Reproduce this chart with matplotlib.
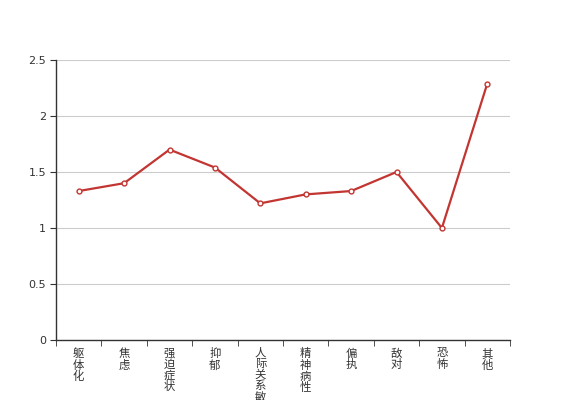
import numpy as np
import matplotlib
matplotlib.use('Agg')
import matplotlib.pyplot as plt

plt.rcParams['font.family'] = ['Noto Sans CJK SC', 'DejaVu Sans']

categories = ['躯体化', '焦虑', '强迫症状', '抑郁', '人际关系敏感',
              '精神病性', '偏执', '敌对', '恐怖', '其他']
values = [1.33, 1.40, 1.70, 1.54, 1.22, 1.30, 1.33, 1.50, 1.00, 2.29]
yticks = [0, 0.5, 1, 1.5, 2, 2.5]
ytick_labels = ['0', '0.5', '1', '1.5', '2', '2.5']

fig = plt.figure(figsize=(5.67, 4.0), dpi=100)
ax = fig.add_axes([56/567, 60/400, 454/567, 280/400])

x = np.arange(len(categories))
ax.plot(x, values, color='#c23531', linewidth=1.6, marker='o', markersize=3.5,
        markerfacecolor='white', markeredgecolor='#c23531', markeredgewidth=1, zorder=3)

ax.set_xlim(-0.5, len(categories) - 0.5)
ax.set_ylim(0, 2.5)
ax.set_yticks(yticks)
ax.set_yticklabels(ytick_labels, fontsize=8, color='#333333', family='DejaVu Sans')
ax.grid(axis='y', color='#cccccc', linewidth=0.8)
ax.set_axisbelow(True)

# vertical labels, one character per line (the long one runs off the bottom, as in the original)
ax.set_xticks(x)
ax.set_xticklabels(['\n'.join(c) for c in categories], fontsize=8.2, color='#333333',
                   linespacing=1.05, va='top')
ax.set_xticks(np.arange(len(categories) + 1) - 0.5, minor=True)
ax.tick_params(axis='x', which='major', length=0, pad=6)
ax.tick_params(axis='x', which='minor', length=4, color='#333333', direction='out')
ax.tick_params(axis='y', length=4, color='#333333', pad=3)

for s in ['top', 'right']:
    ax.spines[s].set_visible(False)
for s in ['left', 'bottom']:
    ax.spines[s].set_color('#333333')
    ax.spines[s].set_linewidth(1)

fig.savefig('out.png', dpi=100)
